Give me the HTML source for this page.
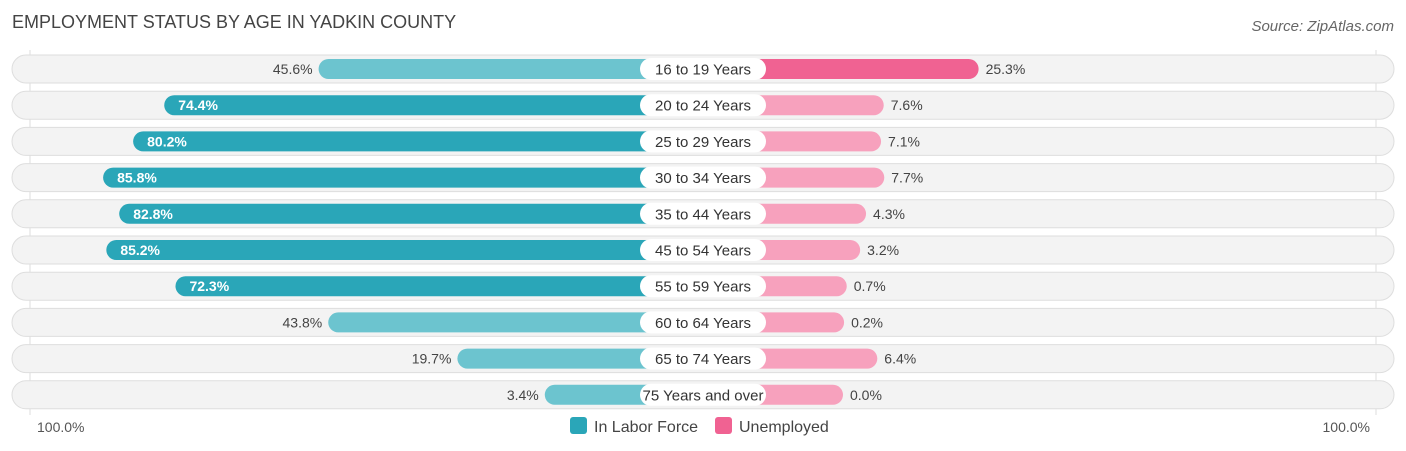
<!DOCTYPE html>
<html><head><meta charset="utf-8"><style>
body{margin:0;background:#fff;font-family:"Liberation Sans",sans-serif;}
#wrap{position:relative;width:1406px;height:451px;overflow:hidden;}
</style></head><body>
<div id="wrap">
<svg id="svg" width="1406" height="451" xmlns="http://www.w3.org/2000/svg">
<text x="12" y="28" font-size="18" fill="#444">EMPLOYMENT STATUS BY AGE IN YADKIN COUNTY</text>
<text x="1394" y="31" font-size="15" fill="#666" font-style="italic" text-anchor="end">Source: ZipAtlas.com</text>
<g id="rows"></g>
<text x="37" y="432" font-size="14" fill="#555">100.0%</text>
<text x="1370" y="432" font-size="14" fill="#555" text-anchor="end">100.0%</text>
<g>
<rect x="570" y="417" width="17" height="17" rx="3" fill="#2aa6b8"/>
<text x="594" y="432" font-size="16" fill="#444">In Labor Force</text>
<rect x="715" y="417" width="17" height="17" rx="3" fill="#f06292"/>
<text x="739" y="432" font-size="16" fill="#444">Unemployed</text>
</g>
</svg>
</div>
<script>
const categories=["16 to 19 Years","20 to 24 Years","25 to 29 Years","30 to 34 Years","35 to 44 Years","45 to 54 Years","55 to 59 Years","60 to 64 Years","65 to 74 Years","75 Years and over"];
const laborValues=[45.6,74.4,80.2,85.8,82.8,85.2,72.3,43.8,19.7,3.4];
const unemployedValues=[25.3,7.6,7.1,7.7,4.3,3.2,0.7,0.2,6.4,0.0];
const NS="http://www.w3.org/2000/svg";
const g=document.getElementById('rows');
const cx=703, off=140, scale=5.36, y0=69, dy=36.2;
function xl(v){return cx-off-v*scale;}
function xr(v){return cx+off+v*scale;}
function mk(t,a){const e=document.createElementNS(NS,t);for(const k in a)e.setAttribute(k,a[k]);g.appendChild(e);return e;}
// gridlines
let gl=mk('line',{x1:30,x2:30,y1:50,y2:415,stroke:'#ddd'});


let gr=mk('line',{x1:1376,x2:1376,y1:50,y2:415,stroke:'#ddd'});


categories.forEach((c,i)=>{
  const y=y0+i*dy;
  let bg=mk('rect',{x:12,y:y-14,width:1382,height:28,rx:14,fill:'#f3f3f3',stroke:'#dedede'});
  
  
  const lv=laborValues[i], uv=unemployedValues[i];
  const lx=xl(lv);
  const lcol=lv>60?'#2aa6b8':'#6cc4cf';
  let lb=mk('rect',{x:lx,y:y-10,width:cx-lx,height:20,rx:10,fill:lcol});
  
  
  const rx=xr(uv);
  const ucol=uv>15?'#f06292':'#f7a1bd';
  let ub=mk('rect',{x:cx,y:y-10,width:rx-cx,height:20,rx:10,fill:ucol});
  
  
  let lab=mk('rect',{x:cx-63,y:y-11,width:126,height:22,rx:11,fill:'#fff'});
  
  
  let lt=mk('text',{x:cx,y:y+5.5,'font-size':15,fill:'#333','text-anchor':'middle'});
  lt.textContent=c;
  
  
  let vt;
  if(lv>60){vt=mk('text',{x:lx+14,y:y+5,'font-size':14,fill:'#fff','font-weight':'bold'});}
  else{vt=mk('text',{x:lx-6,y:y+5,'font-size':14,fill:'#444','text-anchor':'end'});}
  vt.textContent=lv.toFixed(1)+'%';
  
  
  let ut=mk('text',{x:rx+7,y:y+5,'font-size':14,fill:'#444'});
  ut.textContent=uv.toFixed(1)+'%';
  
  
});
</script>
</body></html>
